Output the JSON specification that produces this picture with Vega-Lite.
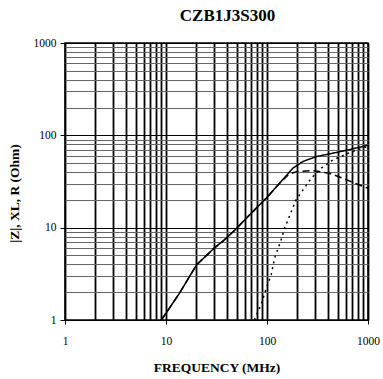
{
  "$schema": "https://vega.github.io/schema/vega-lite/v6.json",
  "width": 303,
  "height": 277,
  "autosize": {"type": "none"},
  "padding": {"left": 65, "top": 43, "right": 15, "bottom": 59},
  "background": "white",
  "title": {"text": "CZB1J3S300", "font": "Liberation Serif", "fontSize": 17, "fontWeight": "bold", "color": "black", "anchor": "middle", "frame": "group", "offset": 12, "dx": 11},
  "config": {
    "view": {"stroke": "black", "strokeWidth": 1.5},
    "axis": {"labelFont": "Liberation Serif", "titleFont": "Liberation Serif", "labelColor": "black", "titleColor": "black", "labelFontSize": 11.5, "titleFontSize": 13.5, "titleFontWeight": "bold", "domain": false, "tickColor": "black"}
  },
  "data": {"values": [
    {"s": "Z", "f": 9, "v": 1}, {"s": "Z", "f": 13.6, "v": 1.95}, {"s": "Z", "f": 20, "v": 3.94}, {"s": "Z", "f": 30, "v": 6}, {"s": "Z", "f": 38, "v": 7.4}, {"s": "Z", "f": 48, "v": 9.4}, {"s": "Z", "f": 67, "v": 13.7}, {"s": "Z", "f": 98, "v": 20.8}, {"s": "Z", "f": 133, "v": 30.3}, {"s": "Z", "f": 180, "v": 44}, {"s": "Z", "f": 226, "v": 52}, {"s": "Z", "f": 307, "v": 58.8}, {"s": "Z", "f": 447, "v": 64}, {"s": "Z", "f": 655, "v": 70}, {"s": "Z", "f": 1000, "v": 78},
    {"s": "XL", "f": 9, "v": 1}, {"s": "XL", "f": 13.6, "v": 1.95}, {"s": "XL", "f": 20, "v": 3.94}, {"s": "XL", "f": 30, "v": 6}, {"s": "XL", "f": 38, "v": 7.4}, {"s": "XL", "f": 48, "v": 9.4}, {"s": "XL", "f": 67, "v": 13.7}, {"s": "XL", "f": 98, "v": 20.8}, {"s": "XL", "f": 133, "v": 30.3}, {"s": "XL", "f": 165, "v": 38}, {"s": "XL", "f": 200, "v": 40.5}, {"s": "XL", "f": 284, "v": 41.5}, {"s": "XL", "f": 415, "v": 38.8}, {"s": "XL", "f": 563, "v": 34.3}, {"s": "XL", "f": 822, "v": 29}, {"s": "XL", "f": 1000, "v": 26.7},
    {"s": "R", "f": 75, "v": 1}, {"s": "R", "f": 88, "v": 1.5}, {"s": "R", "f": 97, "v": 2.1}, {"s": "R", "f": 110, "v": 3.1}, {"s": "R", "f": 119, "v": 4.7}, {"s": "R", "f": 138, "v": 7.4}, {"s": "R", "f": 150, "v": 10}, {"s": "R", "f": 194, "v": 20}, {"s": "R", "f": 274, "v": 34.3}, {"s": "R", "f": 344, "v": 44}, {"s": "R", "f": 447, "v": 54}, {"s": "R", "f": 706, "v": 67}, {"s": "R", "f": 1000, "v": 76}
  ]},
  "mark": {"type": "line", "color": "black", "strokeWidth": 1.5, "clip": true},
  "encoding": {
    "x": {"field": "f", "type": "quantitative",
      "scale": {"type": "log", "domain": [1, 1000], "nice": false},
      "axis": {"title": "FREQUENCY (MHz)", "titleX": 151.5, "titleY": 51, "titleBaseline": "alphabetic",
        "values": [1,2,3,4,5,6,7,8,9,10,20,30,40,50,60,70,80,90,100,200,300,400,500,600,700,800,900,1000],
        "labelExpr": "indexof([1,10,100,1000], datum.value) >= 0 ? format(datum.value, 'd') : ''",
        "tickSize": 4, "labelPadding": 11, "labelFlush": false, "labelOverlap": false,
        "tickOpacity": {"condition": {"test": "indexof([1,10,100,1000], datum.value) >= 0", "value": 1}, "value": 0},
        "grid": true, "gridColor": "black", "gridWidth": 1.8, "gridOpacity": 1}},
    "y": {"field": "v", "type": "quantitative",
      "scale": {"type": "log", "domain": [1, 1000], "nice": false},
      "axis": {"title": "|Z|, XL, R (Ohm)", "titleX": -47, "titleY": 150, "titleAngle": 270, "titleAlign": "center", "titleBaseline": "alphabetic",
        "values": [1,2,3,4,5,6,7,8,9,10,20,30,40,50,60,70,80,90,100,200,300,400,500,600,700,800,900,1000],
        "labelExpr": "indexof([1,10,100,1000], datum.value) >= 0 ? format(datum.value, 'd') : ''",
        "tickSize": 5, "labelPadding": 4, "labelFlush": false, "labelOverlap": false,
        "tickOpacity": {"condition": {"test": "indexof([1,10,100,1000], datum.value) >= 0", "value": 1}, "value": 0},
        "grid": true, "gridWidth": 1,
        "gridColor": {"condition": {"test": "indexof([1,10,100,1000], datum.value) >= 0", "value": "black"}, "value": "#666666"}}},
    "strokeDash": {"field": "s", "type": "nominal", "legend": null,
      "scale": {"domain": ["Z", "XL", "R"], "range": [[1, 0], [7, 4], [2, 4]]}},
    "order": {"field": "f", "type": "quantitative"}
  }
}
